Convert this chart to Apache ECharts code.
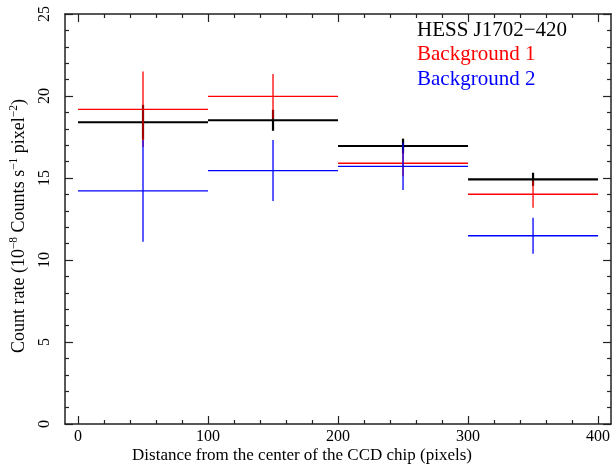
<!DOCTYPE html>
<html>
<head>
<meta charset="utf-8">
<script src="https://cdn.jsdelivr.net/npm/echarts@6/dist/echarts.min.js"></script>
<style>
html,body{margin:0;padding:0;background:#fff;}
#chart{width:613px;height:466px;}
</style>
</head>
<body>
<div id="chart"></div>
<script>
// bin centres (pixels from CCD centre) and half-widths
var binCenters = [50, 150, 250, 350];
var binHalfWidth = [50, 50, 50, 50];
// Count rates (1e-8 counts s^-1 pixel^-2) and 1-sigma errors
var hessRate = [18.40, 18.52, 16.95, 14.92];
var hessErr  = [1.06, 0.64, 0.45, 0.40];
var bg1Rate  = [19.19, 19.98, 15.90, 14.01];
var bg1Err   = [2.30, 1.36, 0.80, 0.82];
var bg2Rate  = [14.21, 15.45, 15.71, 11.48];
var bg2Err   = [3.10, 1.86, 1.44, 1.10];
// tick values
var xMajorTicks = [0, 100, 200, 300, 400];
var xMinorTicks = [20, 40, 60, 80, 120, 140, 160, 180, 220, 240, 260, 280, 320, 340, 360, 380];
var legendNames = ['HESS J1702\u2212420', 'Background 1', 'Background 2'];

var FONT = '"Liberation Serif","DejaVu Serif",serif';

function build(rate, err) {
  return rate.map(function (v, i) { return [binCenters[i], v, err[i], binHalfWidth[i]]; });
}

function makeRender(color, width) {
  return function (params, api) {
    var x = api.value(0), y = api.value(1), e = api.value(2), hw = api.value(3);
    var l = api.coord([x - hw, y]);
    var r = api.coord([x + hw, y]);
    var t = api.coord([x, y + e]);
    var b = api.coord([x, y - e]);
    var st = { stroke: color, lineWidth: width };
    return {
      type: 'group',
      children: [
        { type: 'line', shape: { x1: l[0], y1: l[1], x2: r[0], y2: r[1] }, style: st },
        { type: 'line', shape: { x1: t[0], y1: t[1], x2: b[0], y2: b[1] }, style: st }
      ]
    };
  };
}

var lineStyle = { color: '#222', width: 1.5 };
var baseX = { type: 'value', min: -10, max: 410, splitLine: { show: false }, gridIndex: 0 };

var chart = echarts.init(document.getElementById('chart'), null, { renderer: 'canvas' });
chart.setOption({
  animation: false,
  backgroundColor: '#fff',
  grid: { left: 63, right: -1, top: 14, bottom: 42, containLabel: false },
  xAxis: [
    Object.assign({}, baseX, {
      position: 'bottom',
      axisLine: { show: true, onZero: false, lineStyle: lineStyle },
      axisTick: { show: true, inside: true, length: 8, customValues: xMajorTicks, lineStyle: { color: '#222', width: 1.2 } },
      axisLabel: { show: true, customValues: xMajorTicks, margin: 5, fontFamily: FONT, fontSize: 16, color: '#000' }
    }),
    Object.assign({}, baseX, {
      position: 'bottom',
      axisLine: { show: false, onZero: false },
      axisTick: { show: true, inside: true, length: 4, customValues: xMinorTicks, lineStyle: { color: '#222', width: 1.2 } },
      axisLabel: { show: false }
    }),
    Object.assign({}, baseX, {
      position: 'top',
      axisLine: { show: true, onZero: false, lineStyle: lineStyle },
      axisTick: { show: true, inside: true, length: 8, customValues: xMajorTicks, lineStyle: { color: '#222', width: 1.2 } },
      axisLabel: { show: false }
    }),
    Object.assign({}, baseX, {
      position: 'top',
      axisLine: { show: false, onZero: false },
      axisTick: { show: true, inside: true, length: 4, customValues: xMinorTicks, lineStyle: { color: '#222', width: 1.2 } },
      axisLabel: { show: false }
    })
  ],
  yAxis: [
    {
      type: 'value', min: 0, max: 25, interval: 5, position: 'left',
      splitLine: { show: false },
      axisLine: { show: true, onZero: false, lineStyle: lineStyle },
      axisTick: { show: true, inside: true, length: 8, lineStyle: { color: '#222', width: 1.2 } },
      minorTick: { show: true, splitNumber: 5, length: 4, lineStyle: { color: '#222', width: 1.2 } },
      axisLabel: { show: true, rotate: 90, margin: 12, fontFamily: FONT, fontSize: 16, color: '#000' },
      name: '{a|Count rate (10}{s|\u22128}{a| Counts s}{s|\u22121}{a| pixel}{s|\u22122}{a|)}',
      nameLocation: 'middle', nameRotate: 90, nameGap: 37,
      nameTextStyle: {
        padding: [0, 14, 0, 0],
        rich: {
          a: { fontFamily: FONT, fontSize: 18, color: '#000', lineHeight: 20, verticalAlign: 'bottom' },
          s: { fontFamily: FONT, fontSize: 11.5, color: '#000', lineHeight: 20, verticalAlign: 'top' }
        }
      }
    },
    {
      type: 'value', min: 0, max: 25, interval: 5, position: 'right',
      splitLine: { show: false },
      axisLine: { show: true, onZero: false, lineStyle: lineStyle },
      axisTick: { show: true, inside: true, length: 8, lineStyle: { color: '#222', width: 1.2 } },
      minorTick: { show: true, splitNumber: 5, length: 4, lineStyle: { color: '#222', width: 1.2 } },
      axisLabel: { show: false }
    }
  ],
  graphic: [
    { type: 'text', x: 417, y: 30, style: { text: legendNames[0], fill: '#000', font: '21px ' + FONT, textVerticalAlign: 'middle' } },
    { type: 'text', x: 417, y: 54.5, style: { text: legendNames[1], fill: '#ff0000', font: '21px ' + FONT, textVerticalAlign: 'middle' } },
    { type: 'text', x: 417, y: 79, style: { text: legendNames[2], fill: '#0000ff', font: '21px ' + FONT, textVerticalAlign: 'middle' } },
    { type: 'text', x: 302, y: 456, style: { text: 'Distance from the center of the CCD chip (pixels)', fill: '#000', font: '17px ' + FONT, textAlign: 'center', textVerticalAlign: 'middle' } }
  ],
  series: [
    { type: 'custom', name: legendNames[0], xAxisIndex: 0, yAxisIndex: 0, renderItem: makeRender('#000000', 2.2), data: build(hessRate, hessErr), z: 2 },
    { type: 'custom', name: legendNames[1], xAxisIndex: 0, yAxisIndex: 0, renderItem: makeRender('#ff0000', 1.3), data: build(bg1Rate, bg1Err), z: 3 },
    { type: 'custom', name: legendNames[2], xAxisIndex: 0, yAxisIndex: 0, renderItem: makeRender('#0000ff', 1.3), data: build(bg2Rate, bg2Err), z: 4 }
  ]
});
</script>
</body>
</html>
